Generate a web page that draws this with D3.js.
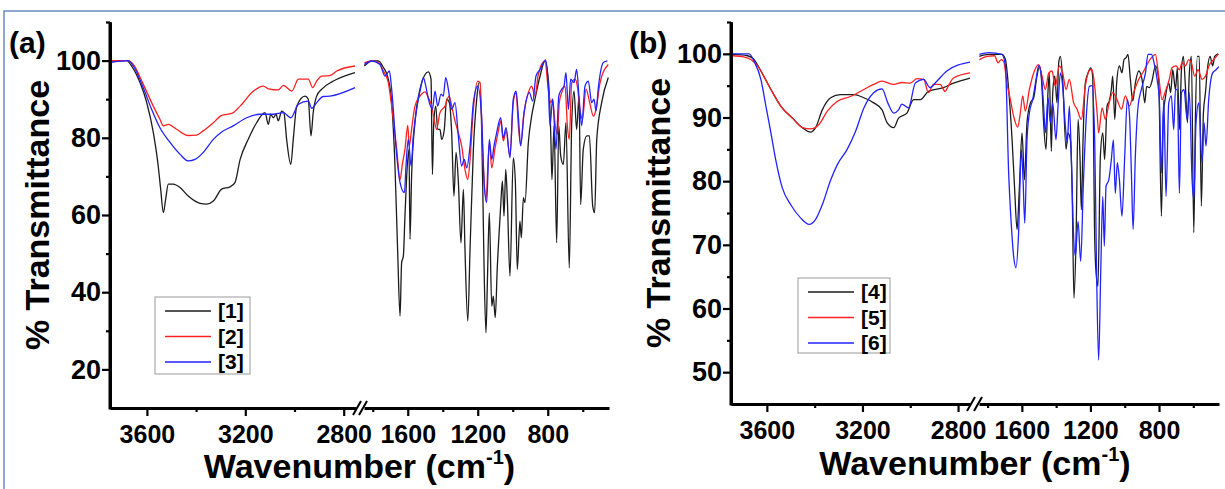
<!DOCTYPE html>
<html>
<head>
<meta charset="utf-8">
<script src="https://cdn.jsdelivr.net/npm/d3@7"></script>
<style>
  body { margin: 0; background: #fff; }
  svg { display: block; }
  text { font-family: "Liberation Sans", Arial, sans-serif; font-weight: bold; fill: #000; }
</style>
</head>
<body>
<svg id="chart"></svg>
<script>
// ---- data: [wavenumber, % transmittance] ----
// panel (a), 3750-2750 cm-1
const s1Left = [[3750,99.9],[3682,100],[3662,98.6],[3628,94.3],[3601,89.2],[3574,81.4],[3554,72.7],[3544,66.7],[3533,60.6],[3524,64],[3513,68],[3493,68],[3465,67.1],[3432,64.9],[3384,63],[3357,62.8],[3330,63.6],[3296,66.7],[3262,67.3],[3242,68.4],[3221,74.4],[3188,79.6],[3154,83.9],[3120,86.5],[3106,83.5],[3097,86.1],[3086,85.2],[3075,86.1],[3066,84.4],[3052,86.9],[3043,86.5],[3032,79.6],[3015,73.1],[3005,79.6],[2991,88.2],[2957,90.8],[2944,90],[2933,80.5],[2924,86.5],[2910,90.8],[2889,92.6],[2842,94.7],[2754,96.9]];
const s2Left = [[3750,100],[3676,100],[3655,99],[3615,93.9],[3574,88.2],[3547,84.8],[3533,83.1],[3513,83.5],[3479,82.2],[3432,80.6],[3398,80.7],[3371,81.8],[3330,83.9],[3296,85.8],[3255,86.3],[3221,88.2],[3167,92.1],[3127,93.4],[3106,92.7],[3066,92.4],[3045,93.6],[3011,92.1],[2984,95.2],[2944,95.2],[2926,93],[2910,94.7],[2889,96],[2856,96.1],[2828,97.3],[2754,98.6]];
const s3Left = [[3750,99.5],[3676,100],[3655,98.6],[3615,93],[3581,87.4],[3547,82.6],[3506,78.8],[3465,75.7],[3432,74],[3404,74.4],[3371,76.2],[3330,79.6],[3296,81.5],[3249,83.1],[3194,85.2],[3140,86.1],[3086,86.1],[3045,86.5],[3015,85.2],[2984,88.7],[2944,89.5],[2930,87.6],[2910,89.1],[2883,90.7],[2856,90.8],[2754,93]];
// panel (a), 1850-450 cm-1
const s1Right = [[1848,98.6],[1806,99.9],[1768,99.9],[1739,98.2],[1711,95.2],[1692,89.1],[1673,72.7],[1658,51.1],[1644,33.8],[1635,47.6],[1625,49.4],[1616,59.7],[1606,70.1],[1593,77],[1587,53.7],[1578,70.1],[1559,83.9],[1530,92.6],[1501,96.4],[1482,97.1],[1467,95.2],[1459,70.5],[1452,83.1],[1440,88.2],[1429,82.2],[1416,82.2],[1406,79.6],[1391,82.2],[1378,90],[1362,89.1],[1349,81.3],[1336,64.9],[1324,76.2],[1311,68.8],[1296,52.8],[1282,66.6],[1273,51.1],[1257,32.5],[1244,51.1],[1225,77],[1206,90],[1193,94.3],[1187,94.3],[1172,68.4],[1164,46.8],[1153,29.5],[1145,42.5],[1134,60.6],[1120,36.4],[1111,39],[1100,33.4],[1088,46.8],[1080,53.7],[1069,62.3],[1059,68.8],[1050,59.7],[1040,71.8],[1031,64],[1016,44.2],[997,74.8],[985,68.4],[974,45.9],[959,58.4],[951,54.1],[939,64.5],[930,63.2],[911,78.7],[892,85.6],[873,90],[844,96],[816,99.9],[797,95.2],[783,81.3],[776,69.2],[764,83.1],[749,52.8],[737,83.1],[726,75.3],[711,73.1],[696,83.9],[677,46.3],[663,83.9],[650,92.1],[635,82.2],[621,90.8],[612,62.7],[597,77],[577,80.5],[562,80.5],[543,62.3],[532,60.6],[520,79.6],[492,89.1],[454,95.6]];
const s2Right = [[1848,99.5],[1806,99.9],[1768,99.5],[1739,97.3],[1711,94.3],[1692,88.2],[1663,77],[1644,69.2],[1631,73.1],[1616,77],[1600,83.2],[1591,77.9],[1578,82.2],[1559,88.2],[1530,90.8],[1501,91.9],[1482,90.4],[1463,88.2],[1448,84.4],[1435,82.2],[1416,86.5],[1387,88.2],[1364,90.8],[1345,87.4],[1330,84.4],[1311,81.3],[1292,77.9],[1273,71.8],[1257,69.2],[1244,74.4],[1225,87.4],[1200,94.7],[1187,94.3],[1172,77],[1153,64],[1134,78.7],[1120,72.2],[1101,77.4],[1082,81.8],[1069,84.4],[1054,79.2],[1038,81.8],[1016,75.3],[997,89.1],[981,91.7],[968,83.1],[955,78.3],[936,86.5],[911,91.7],[892,93.4],[873,90.8],[854,96.4],[816,99.9],[797,92.6],[783,89.1],[772,90],[758,83.5],[745,80.9],[734,89.1],[720,91.7],[701,93.4],[688,83.1],[677,79.6],[663,94.3],[644,95.2],[631,93.4],[616,87.4],[602,84.8],[581,92.6],[562,89.5],[539,85.6],[524,87.4],[501,94.3],[454,99]];
const s3Right = [[1848,99],[1806,99.9],[1759,99],[1730,96],[1705,97.3],[1692,92.6],[1663,75.3],[1644,68.4],[1619,65.8],[1610,72.7],[1597,79.6],[1581,72.7],[1568,80.5],[1549,87.4],[1524,93.4],[1511,95.6],[1497,93.4],[1482,90],[1459,87.4],[1444,92.1],[1429,88.2],[1410,91.3],[1397,90.8],[1383,95.6],[1368,92.6],[1349,87.4],[1330,89.1],[1311,80.5],[1292,72.7],[1277,74.4],[1263,72.2],[1244,77.9],[1225,89.1],[1200,93.4],[1178,85.6],[1164,68.4],[1149,63.2],[1134,79.6],[1120,74.4],[1107,77.9],[1092,81.3],[1069,85.2],[1054,80],[1038,82.6],[1016,74.8],[997,90],[981,92.1],[968,85.6],[955,77.9],[936,86.1],[905,91.7],[886,89.5],[867,96],[844,97.7],[812,100.2],[797,93.4],[787,83.1],[772,90],[753,77],[737,90.8],[720,92.6],[707,93.4],[696,96.9],[682,87.4],[669,95.2],[650,94.3],[635,97.7],[619,89.1],[606,83.1],[587,93.4],[568,94.7],[549,89.1],[536,90],[524,87],[511,93],[482,99.5],[459,99.9]];

// panel (b), 3750-2750 cm-1
const s4Left = [[3743,99.9],[3681,99.7],[3653,99.1],[3625,97.3],[3583,94.4],[3542,91.8],[3493,89.9],[3451,88.4],[3417,87.7],[3396,88.4],[3368,91.2],[3333,93.1],[3292,93.6],[3236,93.6],[3194,93.1],[3153,92.3],[3118,91.2],[3097,89.2],[3069,88.4],[3049,89.9],[3014,90.7],[2986,92.8],[2958,92.8],[2924,94.1],[2861,94.7],[2819,95.4],[2750,96.2]];
const s5Left = [[3743,99.7],[3694,99.5],[3667,99.1],[3639,98.1],[3583,94.4],[3542,91.8],[3493,89.9],[3451,88.4],[3417,88.2],[3382,88.9],[3347,91],[3306,92.5],[3250,93.3],[3194,94.4],[3153,95.2],[3118,95.7],[3069,95.2],[3035,95.5],[3000,95.4],[2972,96.1],[2944,96],[2924,93.9],[2903,95.2],[2875,95.2],[2854,94.1],[2840,95],[2819,96.2],[2750,97]];
const s6Left = [[3743,100],[3674,100],[3653,98.8],[3625,96],[3604,91.8],[3583,87.6],[3563,83.4],[3535,78.9],[3500,76.3],[3458,74.2],[3423,73.2],[3396,74],[3368,76.3],[3333,80.2],[3305,82.6],[3264,85],[3229,87.8],[3194,91.5],[3153,93.9],[3118,94.5],[3094,92.3],[3069,90.7],[3049,91.2],[3035,92.1],[3007,91.5],[2979,95.4],[2944,96],[2917,94.7],[2889,95.7],[2847,97.3],[2750,98.7]];
// panel (b), 1850-450 cm-1
const s4Right = [[1848,99.6],[1793,99.9],[1716,99.9],[1696,99.1],[1677,94.4],[1657,86.5],[1642,78.7],[1628,72.4],[1615,78.7],[1599,87.6],[1585,80.2],[1570,89.2],[1550,92.3],[1531,93.1],[1512,96.5],[1496,98.1],[1482,94.4],[1473,89.2],[1459,85],[1447,94.4],[1440,97],[1428,84.7],[1420,93.9],[1408,96.5],[1395,92.3],[1385,98.6],[1375,99.6],[1362,96],[1342,85],[1331,87.6],[1317,86.5],[1307,79.2],[1296,61.6],[1284,70.8],[1272,89.7],[1261,83.9],[1253,75.5],[1243,86.5],[1230,95.4],[1214,97],[1198,97.8],[1187,96.5],[1175,70.8],[1167,65.6],[1156,63.5],[1142,83.9],[1128,87.6],[1117,83.4],[1103,91.8],[1090,92.6],[1078,94.4],[1070,96.5],[1058,89.7],[1047,95.4],[1031,98.1],[1016,97],[1004,99.1],[992,99.4],[981,99.9],[967,96],[953,92.6],[938,95.4],[918,97.3],[899,96],[883,92.3],[872,94.9],[856,94.7],[841,95.7],[821,98.1],[802,96],[786,74.5],[774,90.7],[763,93.1],[743,95.4],[732,93.9],[720,97.5],[704,94.4],[693,97.8],[681,88.1],[669,97.5],[658,99.6],[646,94.9],[634,89.2],[623,97],[611,99.6],[597,71.9],[588,89.2],[576,99.6],[565,99.6],[553,76.1],[541,90.7],[529,93.9],[518,97.5],[502,99.6],[487,98.1],[475,99.6],[455,100]];
const s5Right = [[1848,99.1],[1803,99.6],[1759,99.7],[1739,98.6],[1720,99.1],[1706,98.8],[1687,95.4],[1667,92.8],[1648,90.2],[1624,88.5],[1609,90.7],[1595,93.4],[1580,91],[1556,94.4],[1531,97],[1502,98.3],[1482,96.5],[1463,94.4],[1443,97],[1424,97.3],[1405,94.9],[1381,98.1],[1362,97],[1342,94.4],[1323,96],[1298,92.3],[1278,91.3],[1253,89.7],[1230,94.9],[1200,97.5],[1191,97.5],[1175,94.9],[1161,90.7],[1152,87.6],[1132,91.5],[1113,89.7],[1093,92],[1070,93.9],[1045,92.8],[1019,91.3],[996,93.4],[973,91.8],[948,93.9],[918,96],[889,97.3],[864,98.6],[844,99.4],[821,99.9],[802,96.5],[782,92.8],[763,94.1],[740,96],[724,97.8],[701,98.1],[681,97.5],[665,98.6],[646,98.1],[627,99.1],[611,98.6],[592,96.5],[572,97.5],[549,96],[529,96.5],[506,98.3],[481,99.1],[452,100]];
const s6Right = [[1848,99.9],[1793,100.2],[1716,99.9],[1696,98.1],[1677,81.3],[1661,72.9],[1648,68.2],[1634,66.4],[1619,71.9],[1603,85],[1593,80.2],[1583,73.4],[1570,86.5],[1556,90.7],[1537,92.8],[1517,96],[1502,98.1],[1486,96.5],[1473,91.8],[1463,87.6],[1447,93.1],[1434,89.2],[1420,92.3],[1401,86.5],[1389,91.8],[1375,97],[1362,94.9],[1346,88.6],[1335,86],[1323,91.8],[1311,83.4],[1301,73.4],[1288,68.2],[1272,73.7],[1257,67.4],[1241,79.7],[1226,89.2],[1206,94.9],[1191,95],[1175,86.5],[1164,65.6],[1152,51.9],[1140,65.6],[1128,77.6],[1119,69.8],[1109,79.2],[1093,80.2],[1078,83.4],[1066,86.5],[1055,78.1],[1043,82.9],[1031,80.2],[1016,74.5],[1000,83.9],[985,92.8],[973,90.7],[961,81.3],[951,72.4],[938,83.9],[922,91.8],[903,94.4],[879,97],[864,99.9],[844,99.9],[829,98.6],[811,96],[798,92.8],[786,81.3],[772,92.8],[759,77.6],[743,92.3],[728,93.4],[714,88.1],[704,94.4],[693,94.4],[681,78.1],[669,93.9],[654,94.4],[636,89.7],[623,93.9],[607,80.2],[597,77.1],[584,89.2],[568,92.3],[549,82.9],[537,89.2],[526,85.5],[510,92.8],[487,97],[467,97.5],[451,98]];

// ---- ticks and labels ----
const xTicksLeft = [3600, 3200, 2800];
const xMinorLeft = [3400, 3000];
const xTicksRight = [1600, 1200, 800];
const xMinorRight = [1800, 1400, 1000, 600];
const yTicksA = [20, 40, 60, 80, 100];
const yMinorA = [30, 50, 70, 90, 110];
const yTicksB = [50, 60, 70, 80, 90, 100];
const yMinorB = [55, 65, 75, 85, 95, 105];
const legendA = ["[1]", "[2]", "[3]"];
const legendB = ["[4]", "[5]", "[6]"];
const colors = ["#1c1c1c", "#ff2020", "#2222ff"];

const width = 1225, height = 489;
const svg = d3.select("#chart").attr("width", width).attr("height", height);

// thin frame around the figure
svg.append("rect")
  .attr("x", 4).attr("y", 11).attr("width", 1260).attr("height", 520)
  .attr("fill", "none").attr("stroke", "#6a8cc2").attr("stroke-width", 1.5);

function drawPanel(p) {
  const g = svg.append("g");

  const xL = d3.scaleLinear().domain([3750, 2750]).range(p.xLeftRange);
  const xR = d3.scaleLinear().domain([1850, 450]).range(p.xRightRange);
  const y = d3.scaleLinear().domain(p.yDomain).range([p.bottom, p.top]);

  // spectra
  const lineL = d3.line().x(d => xL(d[0])).y(d => y(d[1])).curve(d3.curveMonotoneX);
  const lineR = d3.line().x(d => xR(d[0])).y(d => y(d[1])).curve(d3.curveMonotoneX);
  p.series.forEach((s, i) => {
    g.append("path").datum(s.left).attr("d", lineL)
      .attr("fill", "none").attr("stroke", colors[i]).attr("stroke-width", 1.3);
    g.append("path").datum(s.right).attr("d", lineR)
      .attr("fill", "none").attr("stroke", colors[i]).attr("stroke-width", 1.3);
  });

  // y axis
  const left = p.xLeftRange[0];
  g.append("g").attr("transform", `translate(${left},0)`)
    .call(d3.axisLeft(y).tickValues(p.yMinor).tickSize(4).tickFormat("").tickSizeOuter(0))
    .call(a => a.select(".domain").remove());
  const ya = g.append("g").attr("transform", `translate(${left},0)`)
    .call(d3.axisLeft(y).tickValues(p.yTicks).tickSize(8).tickPadding(1).tickSizeOuter(0));

  // x axis, two pieces
  const xa = [];
  [[xL, xTicksLeft, xMinorLeft], [xR, xTicksRight, xMinorRight]].forEach(([sc, maj, min]) => {
    g.append("g").attr("transform", `translate(0,${p.bottom})`)
      .call(d3.axisBottom(sc).tickValues(min).tickSize(4).tickFormat("").tickSizeOuter(0))
      .call(a => a.select(".domain").remove());
    xa.push(g.append("g").attr("transform", `translate(0,${p.bottom})`)
      .call(d3.axisBottom(sc).tickValues(maj).tickFormat(d3.format("d"))
        .tickSize(8).tickPadding(9).tickSizeOuter(0)));
  });

  g.selectAll(".tick line").attr("stroke", "#000").attr("stroke-width", 2.2);
  g.selectAll(".domain").attr("stroke", "#000").attr("stroke-width", 3);
  ya.selectAll("text").style("font-size", "27px").style("font-family", '"Liberation Sans", Arial, sans-serif').style("font-weight", "bold");
  xa.forEach(a => a.selectAll("text").style("font-size", "25px").style("font-family", '"Liberation Sans", Arial, sans-serif').style("font-weight", "bold"));

  // y axis line over the corner
  g.append("line").attr("x1", left).attr("x2", left)
    .attr("y1", p.top).attr("y2", p.bottom + 1.5)
    .attr("stroke", "#000").attr("stroke-width", 3);

  // axis break marks
  const bx = [p.xLeftRange[1] + 1, p.xRightRange[0] - 1];
  bx.forEach(x => {
    g.append("line").attr("x1", x - 4).attr("y1", p.bottom + 7)
      .attr("x2", x + 4).attr("y2", p.bottom - 7)
      .attr("stroke", "#000").attr("stroke-width", 2);
  });

  // titles
  const midX = (p.xLeftRange[0] + p.xRightRange[1]) / 2;
  const xt = g.append("text").attr("x", midX).attr("y", p.xTitleY)
    .attr("text-anchor", "middle").style("font-size", "34px");
  xt.append("tspan").text("Wavenumber (cm");
  xt.append("tspan").text("-1").style("font-size", "20px").attr("dy", -14);
  xt.append("tspan").text(")").attr("dy", 14);

  g.append("text")
    .attr("transform", `translate(${p.yTitleX},${(p.top + p.bottom) / 2}) rotate(-90)`)
    .attr("text-anchor", "middle").style("font-size", "34px")
    .text("% Transmittance");

  g.append("text").attr("x", p.tagX).attr("y", 53)
    .style("font-size", "30px").text(p.tag);

  // legend
  const lg = g.append("g").attr("transform", `translate(${p.legend[0]},${p.legend[1]})`);
  lg.append("rect").attr("width", p.legend[2]).attr("height", p.legend[3])
    .attr("fill", "#fff").attr("stroke", "#999").attr("stroke-width", 1);
  p.names.forEach((n, i) => {
    const yy = 14 + i * 25.5;
    lg.append("line").attr("x1", 10).attr("x2", 56).attr("y1", yy).attr("y2", yy)
      .attr("stroke", colors[i]).attr("stroke-width", 1.3);
    lg.append("text").attr("x", 63).attr("y", yy + 7)
      .style("font-size", "21px").text(n);
  });
}

drawPanel({
  xLeftRange: [110, 356], xRightRange: [364, 609],
  yDomain: [10, 110], top: 22, bottom: 408,
  yTicks: yTicksA, yMinor: yMinorA,
  series: [{ left: s1Left, right: s1Right }, { left: s2Left, right: s2Right }, { left: s3Left, right: s3Right }],
  xTitleY: 478, yTitleX: 49, tag: "(a)", tagX: 9,
  legend: [155, 297, 95, 77], names: legendA
});

drawPanel({
  xLeftRange: [731, 970], xRightRange: [979, 1219],
  yDomain: [45, 105], top: 22, bottom: 404,
  yTicks: yTicksB, yMinor: yMinorB,
  series: [{ left: s4Left, right: s4Right }, { left: s5Left, right: s5Right }, { left: s6Left, right: s6Right }],
  xTitleY: 475, yTitleX: 670, tag: "(b)", tagX: 629,
  legend: [798, 278, 92, 75], names: legendB
});
</script>
</body>
</html>
